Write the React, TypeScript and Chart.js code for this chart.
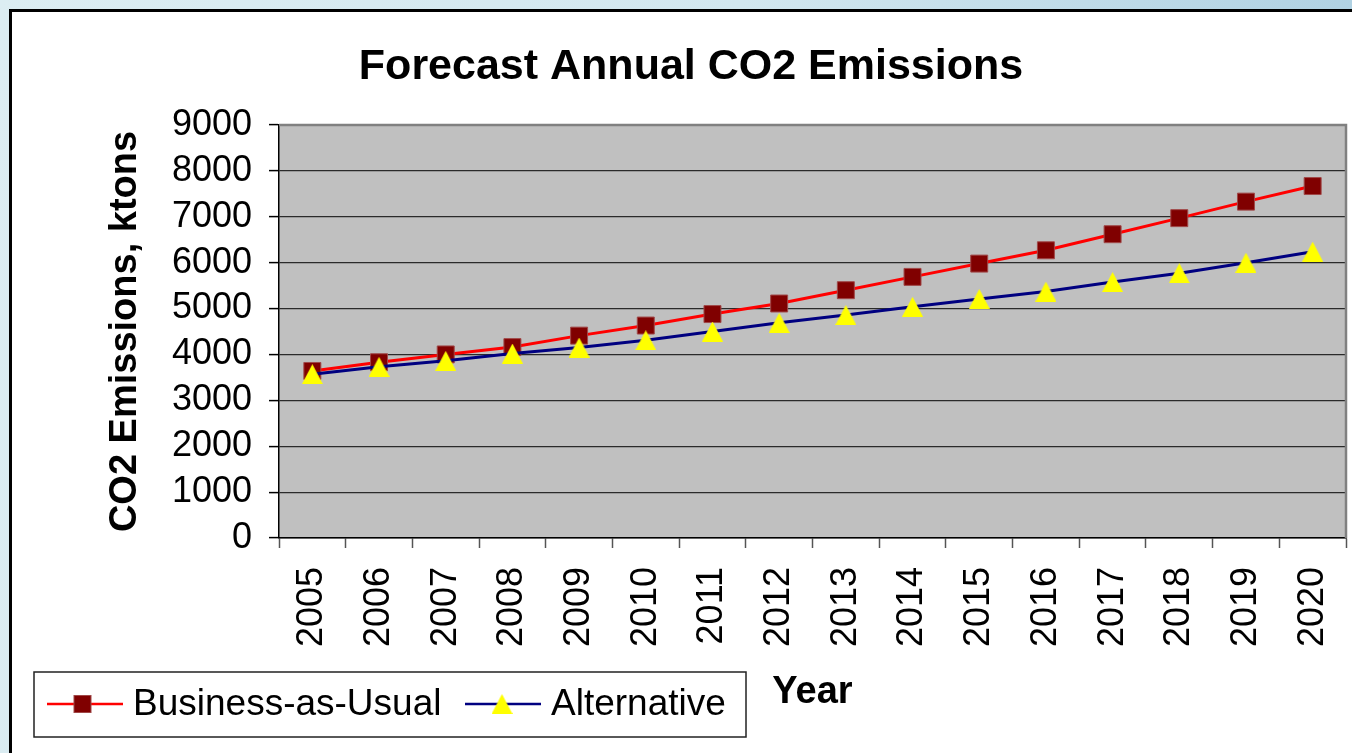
import React, { useEffect, useRef } from "react";
import { Chart, registerables } from "chart.js";

Chart.register(...registerables);

const years = ["2005", "2006", "2007", "2008", "2009", "2010", "2011", "2012", "2013", "2014", "2015", "2016", "2017", "2018", "2019", "2020"];
const businessAsUsual = [3640, 3830, 4000, 4160, 4410, 4630, 4880, 5110, 5400, 5690, 5980, 6270, 6620, 6970, 7330, 7670];
const alternative = [3570, 3730, 3860, 4020, 4150, 4310, 4500, 4690, 4860, 5040, 5210, 5370, 5580, 5770, 6000, 6240];
const seriesLabels = ["Business-as-Usual", "Alternative"];
const yMin = 0;
const yMax = 9000;
const yStep = 1000;
const chartTitle = "Forecast Annual CO2 Emissions";
const yTitle = "CO2 Emissions, ktons";
const xTitle = "Year";

const FONT = "'Liberation Sans', Arial, Helvetica, sans-serif";

function makeTriangle(w: number, h: number, color: string): HTMLCanvasElement {
  const c = document.createElement("canvas");
  c.width = w;
  c.height = h;
  const ctx = c.getContext("2d")!;
  ctx.fillStyle = color;
  ctx.beginPath();
  ctx.moveTo(w / 2, 0);
  ctx.lineTo(w, h);
  ctx.lineTo(0, h);
  ctx.closePath();
  ctx.fill();
  return c;
}

export default function App() {
  const canvasRef = useRef<HTMLCanvasElement | null>(null);

  useEffect(() => {
    if (!canvasRef.current) return;
    const tri = makeTriangle(21, 20, "#ffff00");

    const plotBg = {
      id: "plotBg",
      beforeDraw(chart: any) {
        const { ctx, chartArea: a } = chart;
        ctx.save();
        ctx.fillStyle = "#c0c0c0";
        ctx.fillRect(a.left, a.top, a.right - a.left, a.bottom - a.top);
        ctx.restore();
      },
      beforeDatasetsDraw(chart: any) {
        const { ctx, chartArea: a } = chart;
        ctx.save();
        ctx.strokeStyle = "#808080";
        ctx.lineWidth = 2.5;
        ctx.beginPath();
        ctx.moveTo(a.left, a.top);
        ctx.lineTo(a.right, a.top);
        ctx.lineTo(a.right, a.bottom);
        ctx.stroke();
        ctx.restore();
      },
    };

    const customLegend = {
      id: "customLegend",
      afterDraw(chart: any) {
        const { ctx } = chart;
        const ds = chart.data.datasets;
        ctx.save();
        ctx.fillStyle = "#ffffff";
        ctx.fillRect(22, 660, 712, 65);
        ctx.strokeStyle = "#222";
        ctx.lineWidth = 1.5;
        ctx.strokeRect(22, 660, 712, 65);
        const cy = 692;
        ctx.font = `37px ${FONT}`;
        ctx.textBaseline = "middle";
        ctx.textAlign = "left";
        // item 1
        ctx.strokeStyle = ds[0].borderColor;
        ctx.lineWidth = 2.5;
        ctx.beginPath();
        ctx.moveTo(35, cy);
        ctx.lineTo(111, cy);
        ctx.stroke();
        ctx.fillStyle = ds[0].pointBackgroundColor;
        ctx.fillRect(62, cy - 8.5, 17, 17);
        ctx.strokeStyle = ds[0].pointBorderColor;
        ctx.lineWidth = 1;
        ctx.strokeRect(62, cy - 8.5, 17, 17);
        ctx.fillStyle = "#000";
        ctx.fillText(ds[0].label, 121, cy + 1);
        // item 2
        ctx.strokeStyle = ds[1].borderColor;
        ctx.lineWidth = 2.5;
        ctx.beginPath();
        ctx.moveTo(453, cy);
        ctx.lineTo(529, cy);
        ctx.stroke();
        ctx.drawImage(tri, 490 - tri.width / 2, cy - tri.height / 2);
        ctx.fillStyle = "#000";
        ctx.fillText(ds[1].label, 539, cy + 1);
        ctx.restore();
      },
    };

    const chart = new Chart(canvasRef.current, {
      type: "line",
      data: {
        labels: years,
        datasets: [
          {
            label: seriesLabels[0],
            data: businessAsUsual,
            borderColor: "#ff0000",
            borderWidth: 3,
            pointStyle: "rect",
            pointRadius: 12,
            pointBackgroundColor: "#800000",
            pointBorderColor: "#a04848",
            pointBorderWidth: 1,
            tension: 0,
            order: 1,
          },
          {
            label: seriesLabels[1],
            data: alternative,
            borderColor: "#000080",
            borderWidth: 3,
            pointStyle: tri as any,
            pointRadius: 11,
            pointBackgroundColor: "#ffff00",
            pointBorderColor: "#ffff00",
            tension: 0,
            order: 0,
          },
        ],
      },
      options: {
        responsive: false,
        animation: false,
        devicePixelRatio: 1,
        layout: { padding: { left: 24, right: 24, top: 0, bottom: 37.4 } },
        plugins: {
          legend: { display: false },
          tooltip: { enabled: false },
          title: {
            display: true,
            text: chartTitle,
            color: "#000",
            font: { family: FONT, size: 43, weight: "bold" },
            padding: { top: 29, bottom: 32.4 },
          },
        },
        scales: {
          x: {
            type: "category",
            offset: true,
            grid: {
              display: true,
              drawOnChartArea: false,
              drawTicks: true,
              tickLength: 10,
              offset: true,
              tickColor: "#555",
              tickWidth: 1.5,
            },
            border: { display: true, color: "#000", width: 1.5 },
            ticks: {
              minRotation: 90,
              maxRotation: 90,
              autoSkip: false,
              padding: 19,
              color: "#000",
              font: { family: FONT, size: 36 },
            },
            title: {
              display: true,
              text: xTitle,
              color: "#000",
              font: { family: FONT, size: 38, weight: "bold" },
              padding: { top: 0, bottom: 0 },
            },
            afterFit: (s: any) => {
              s.height = 177.6;
              s.paddingLeft = 0;
              s.paddingRight = 0;
            },
          },
          y: {
            min: yMin,
            max: yMax,
            ticks: {
              stepSize: yStep,
              autoSkip: false,
              padding: 17,
              color: "#000",
              font: { family: FONT, size: 36 },
              callback: (v: any) => String(v),
            },
            grid: {
              color: "#2a2a2a",
              lineWidth: 1.2,
              tickLength: 10,
              tickColor: "#000",
              tickWidth: 1.5,
            },
            border: { display: true, color: "#000", width: 1.5 },
            title: {
              display: true,
              text: yTitle,
              color: "#000",
              font: { family: FONT, size: 38, weight: "bold" },
              padding: { top: 67, bottom: 0 },
            },
            afterFit: (s: any) => {
              s.width = 243;
            },
          },
        },
      } as any,
      plugins: [plotBg, customLegend],
    });

    return () => chart.destroy();
  }, []);

  return (
    <div
      style={{
        position: "fixed",
        left: 0,
        top: 0,
        width: 1352,
        height: 753,
        overflow: "hidden",
        background: "linear-gradient(100deg, #dcedf2 0%, #d2e7ef 50%, #a9cde0 100%)",
      }}
    >
      <div
        style={{
          position: "absolute",
          left: 9,
          top: 9,
          width: 1400,
          height: 800,
          border: "3px solid #000",
          background: "#fff",
        }}
      >
        <canvas
          ref={canvasRef}
          width={1358}
          height={741}
          style={{ position: "absolute", left: 0, top: 0, width: 1358, height: 741 }}
        />
      </div>
    </div>
  );
}
